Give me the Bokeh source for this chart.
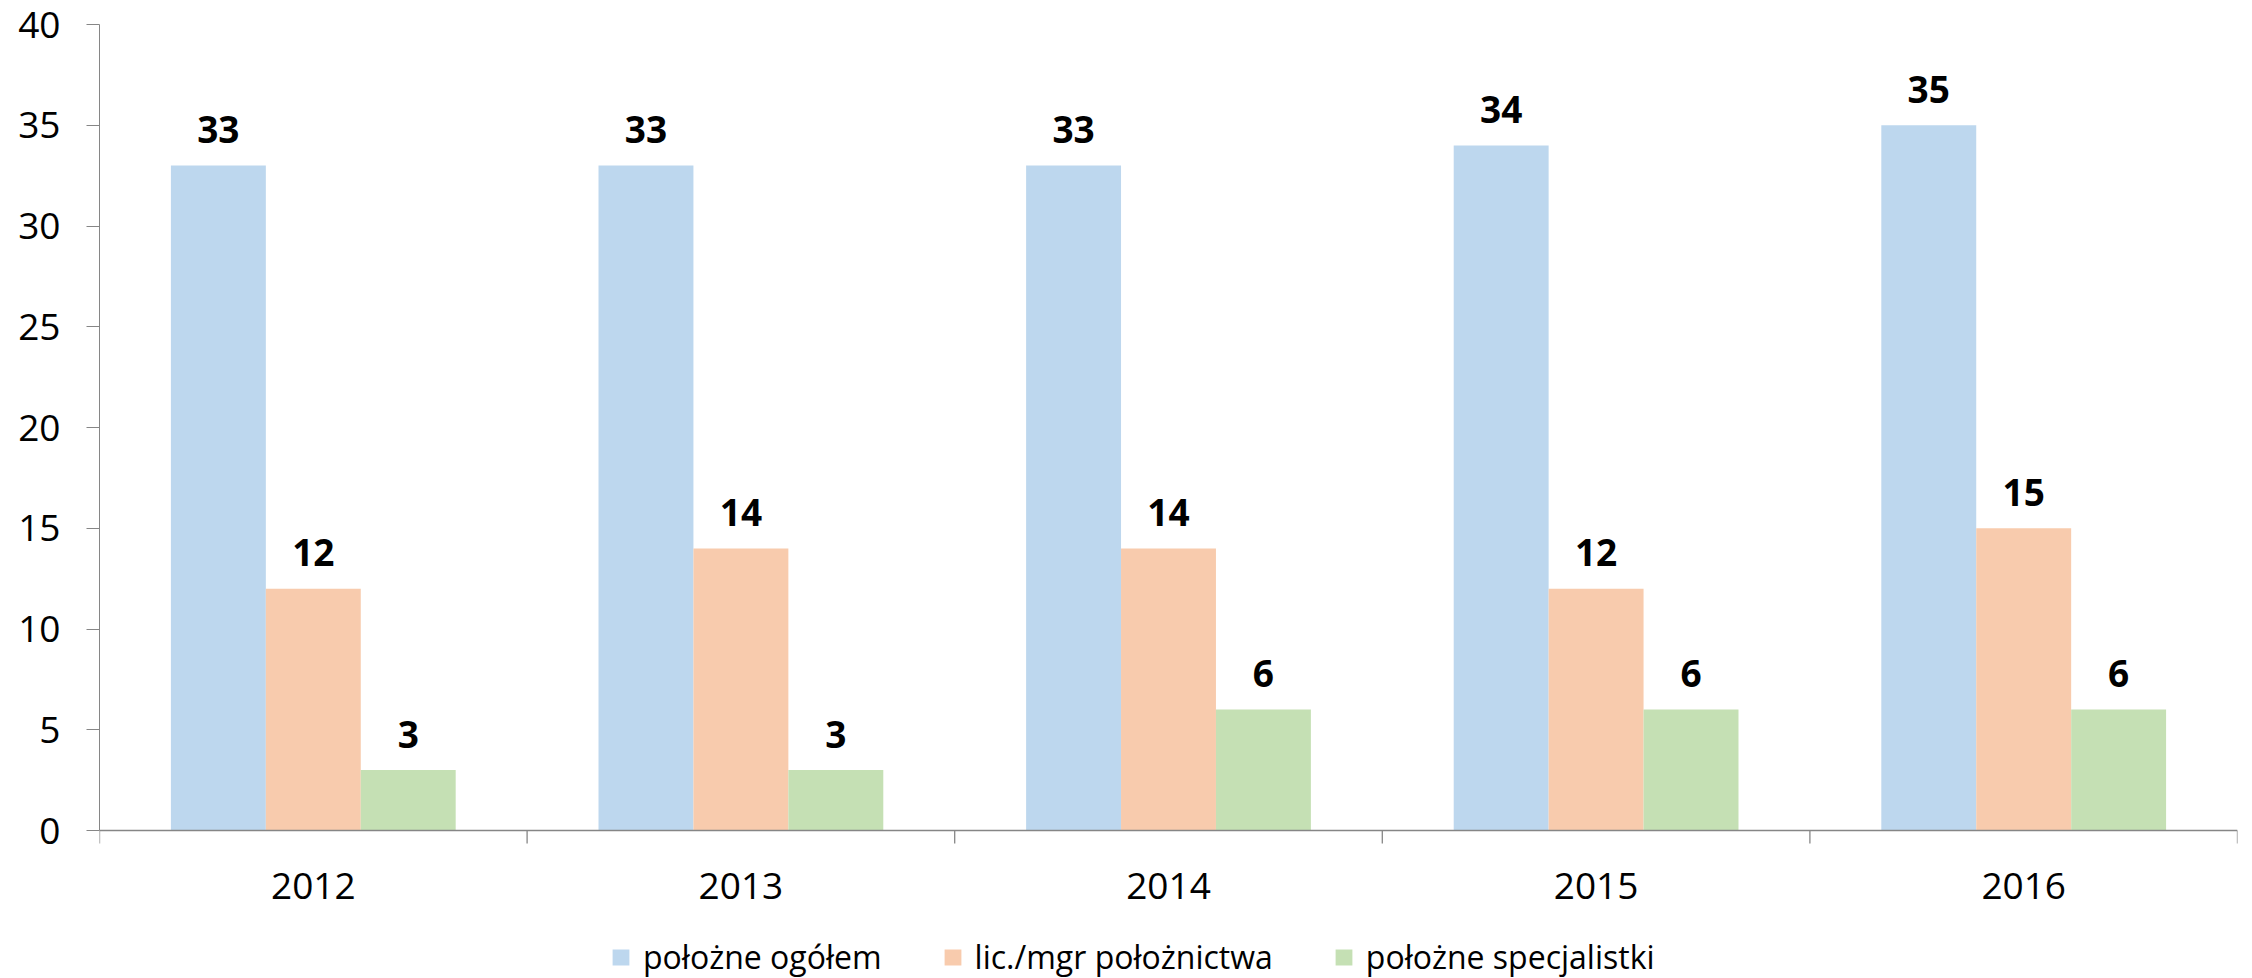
from bokeh.plotting import figure
from bokeh.models import ColumnDataSource, FixedTicker, Legend, LegendItem, Range1d, Span
from bokeh.transform import dodge
from bokeh.core.properties import value
from bokeh.embed import file_html
from bokeh.resources import INLINE

years = ["2012", "2013", "2014", "2015", "2016"]
ogolem = [33, 33, 33, 34, 35]
lic_mgr = [12, 14, 14, 12, 15]
specjalistki = [3, 3, 6, 6, 6]
series_names = ["położne ogółem", "lic./mgr położnictwa", "położne specjalistki"]
colors = ["#BDD7EE", "#F8CBAD", "#C5E0B4"]
y_ticks = [0, 5, 10, 15, 20, 25, 30, 35, 40]
Y_MAX = 40

FONT = "Open Sans"
AXIS_COLOR = "#868686"
BAR_W = 0.222

# layout (pixels)
FIG_W, FIG_H = 2244, 978
TOP, LEFT, RIGHT = 24, 99, 7
PLOT_H = 806            # pixels from value 0 to Y_MAX
PX_PER_UNIT = PLOT_H / Y_MAX
BOTTOM_SPACE = FIG_H - TOP - PLOT_H
Y_MIN = -BOTTOM_SPACE / PX_PER_UNIT
TICK_LEN = 13 / PX_PER_UNIT

xc = [i + 0.5 for i in range(len(years))]
bounds = list(range(len(years) + 1))
src = ColumnDataSource(dict(
    x=xc, year=years,
    a=ogolem, b=lic_mgr, c=specjalistki,
    la=[str(v) for v in ogolem],
    lb=[str(v) for v in lic_mgr],
    lc=[str(v) for v in specjalistki],
))

p = figure(width=FIG_W, height=FIG_H, x_range=Range1d(0, len(years)), y_range=Range1d(Y_MIN, Y_MAX),
           output_backend="svg", toolbar_location=None, x_axis_location=None,
           min_border_left=LEFT, min_border_right=RIGHT, min_border_top=TOP, min_border_bottom=0)
p.outline_line_color = None
p.xgrid.visible = False
p.ygrid.visible = False
p.background_fill_color = "white"
p.border_fill_color = "white"

renderers = []
for col, off, color in zip(["a", "b", "c"], [-BAR_W, 0, BAR_W], colors):
    r = p.vbar(x=dodge("x", off, range=p.x_range), top=col, width=BAR_W, source=src,
               fill_color=color, line_color=None)
    renderers.append(r)

for col, off in zip(["a", "b", "c"], [-BAR_W, 0, BAR_W]):
    p.text(x=dodge("x", off, range=p.x_range), y=col, text="l" + col, source=src,
           text_align="center", text_baseline="alphabetic", y_offset=-36,
           text_font=value(FONT), text_font_style="bold", text_font_size="37px",
           text_color="black")

# category (x) axis drawn in the frame: baseline, boundary ticks, year labels
p.add_layout(Span(location=0, dimension="width", line_color=AXIS_COLOR, line_width=1.3))
p.segment(x0=bounds, y0=[0] * len(bounds), x1=bounds, y1=[-TICK_LEN] * len(bounds),
          line_color=AXIS_COLOR, line_width=1.3)
p.text(x="x", y=0, text="year", source=src, text_align="center", text_baseline="middle",
       y_offset=55, text_font=value(FONT), text_font_size="37px", text_color="black")

# y axis
ya = p.yaxis[0]
ya.ticker = FixedTicker(ticks=y_ticks)
ya.bounds = (0, Y_MAX)
ya.axis_line_color = AXIS_COLOR
ya.major_tick_line_color = AXIS_COLOR
ya.major_tick_out = 13
ya.major_tick_in = 0
ya.minor_tick_line_color = None
ya.major_label_text_font = FONT
ya.major_label_text_font_size = "37px"
ya.major_label_text_color = "black"
ya.major_label_standoff = 26

legend = Legend(items=[LegendItem(label=n, renderers=[r]) for n, r in zip(series_names, renderers)],
                orientation="horizontal", location=(511, 0),
                label_text_font=FONT, label_text_font_size="32px", label_text_color="black",
                glyph_width=21, glyph_height=20, label_standoff=12, spacing=60,
                padding=0, margin=0, border_line_color=None, background_fill_alpha=0)
p.add_layout(legend, "center")

open("out.html", "w").write(file_html(p, INLINE))
